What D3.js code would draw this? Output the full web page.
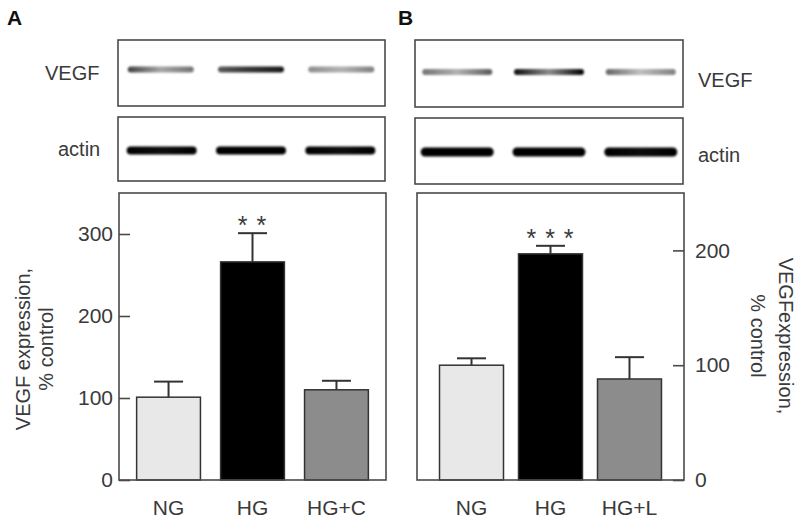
<!DOCTYPE html>
<html>
<head>
<meta charset="utf-8">
<script src="https://cdn.jsdelivr.net/npm/d3@7/dist/d3.min.js"></script>
<style>
  body { margin: 0; background: #fff; }
  svg { display: block; font-family: "Liberation Sans", Arial, sans-serif; }
</style>
</head>
<body>
<svg id="chart" width="800" height="520"></svg>
<script>
// Panel A data
var categoriesA = ["NG", "HG", "HG+C"];
var meansA = [101, 266, 110];
var errorsA = [19, 35, 11];
var ticksA = [0, 100, 200, 300];
var starsA = ["", "* *", ""];

// Panel B data
var categoriesB = ["NG", "HG", "HG+L"];
var meansB = [100, 197, 88];
var errorsB = [6, 7, 19];
var ticksB = [0, 100, 200];
var starsB = ["", "* * *", ""];

// Blot band intensity per lane: [left, middle, right]
var vegfBandsA = [[0.75, 0.35, 0.55], [0.65, 0.8, 0.9], [0.45, 0.3, 0.5]];
var actinBandsA = [[1, 0.95, 1], [1, 1, 1], [1, 0.95, 1]];
var vegfBandsB = [[0.55, 0.3, 0.65], [0.95, 0.45, 1], [0.6, 0.25, 0.5]];
var actinBandsB = [[1, 1, 1], [1, 1, 1], [1, 0.95, 1]];

var barColors = ["#e8e8e8", "#000000", "#8c8c8c"];
var textColor = "#3a3a3a";
var lineColor = "#4a4a4a";

var svg = d3.select("#chart");
var defs = svg.append("defs");
defs.append("filter").attr("id", "blur")
    .attr("x", "-20%").attr("y", "-100%").attr("width", "140%").attr("height", "300%")
  .append("feGaussianBlur").attr("stdDeviation", 1.3);

var gradCount = 0;

// Draw one blot strip (box + bands)
function drawBlot(box, lanes, bands, bandY, bandH, bandW)
{
    svg.append("rect")
        .attr("x", box.x).attr("y", box.y)
        .attr("width", box.w).attr("height", box.h)
        .attr("fill", "#fff")
        .attr("stroke", lineColor)
        .attr("stroke-width", 1.6);

    var laneScale = d3.scaleBand()
        .domain(d3.range(bands.length))
        .range(lanes.range)
        .paddingInner(lanes.inner)
        .paddingOuter(lanes.outer);

    bands.forEach(function(b, i) {
        var id = "g" + (gradCount++);
        var grad = defs.append("linearGradient").attr("id", id);
        [0, 0.5, 1].forEach(function(off, k) {
            grad.append("stop")
                .attr("offset", off)
                .attr("stop-color", "#000")
                .attr("stop-opacity", b[k]);
        });
        var x0 = laneScale(i) + (laneScale.bandwidth() - bandW) / 2;
        svg.append("rect")
            .attr("x", x0)
            .attr("y", bandY - bandH / 2)
            .attr("width", bandW)
            .attr("height", bandH)
            .attr("rx", bandH / 2)
            .attr("fill", "url(#" + id + ")")
            .attr("filter", "url(#blur)");
    });
}

// Draw bar chart panel
function drawBars(p)
{
    var x = d3.scaleBand()
        .domain(p.categories)
        .range([p.left, p.right])
        .paddingInner(p.inner)
        .paddingOuter(p.outer);
    var y = d3.scaleLinear()
        .domain(p.domain)
        .range([p.bottom, p.top]);

    var g = svg.append("g");

    // error bars
    p.categories.forEach(function(c, i) {
        var cx = x(c) + x.bandwidth() / 2;
        var yTop = y(p.means[i] + p.errors[i]);
        g.append("line")
            .attr("x1", cx).attr("x2", cx)
            .attr("y1", y(p.means[i])).attr("y2", yTop)
            .attr("stroke", "#333").attr("stroke-width", 2);
        g.append("line")
            .attr("x1", cx - 14.5).attr("x2", cx + 14.5)
            .attr("y1", yTop).attr("y2", yTop)
            .attr("stroke", "#333").attr("stroke-width", 2);
        if (p.stars[i])
        {
            g.append("text")
                .attr("x", cx)
                .attr("y", yTop + 1)
                .attr("text-anchor", "middle")
                .attr("font-size", 25)
                .attr("letter-spacing", 1)
                .attr("fill", textColor)
                .text(p.stars[i]);
        }
    });

    g.selectAll("rect.bar")
        .data(p.categories)
        .enter().append("rect")
        .attr("class", "bar")
        .attr("x", function(d) { return x(d); })
        .attr("y", function(d, i) { return y(p.means[i]); })
        .attr("width", x.bandwidth())
        .attr("height", function(d, i) { return y(0) - y(p.means[i]); })
        .attr("fill", function(d, i) { return barColors[i]; })
        .attr("stroke", "#333")
        .attr("stroke-width", 1.5);

    // frame
    g.append("rect")
        .attr("x", p.left).attr("y", p.top)
        .attr("width", p.right - p.left).attr("height", p.bottom - p.top)
        .attr("fill", "none")
        .attr("stroke", lineColor)
        .attr("stroke-width", 1.6);

    // y axis
    var axis = (p.side == "left" ? d3.axisLeft(y) : d3.axisRight(y))
        .tickValues(p.ticks)
        .tickSizeInner(-11)
        .tickSizeOuter(0)
        .tickPadding(p.side == "left" ? 6 : 11);
    var ag = g.append("g")
        .attr("transform", "translate(" + (p.side == "left" ? p.left : p.right) + ",0)")
        .call(axis);
    ag.select(".domain").remove();
    ag.selectAll(".tick line").attr("stroke", lineColor).attr("stroke-width", 1.6);
    ag.selectAll(".tick text")
        .attr("font-size", 21)
        .attr("font-family", "Liberation Sans, Arial, sans-serif")
        .attr("fill", textColor);

    // category labels
    g.selectAll("text.cat")
        .data(p.categories)
        .enter().append("text")
        .attr("class", "cat")
        .attr("x", function(d) { return x(d) + x.bandwidth() / 2; })
        .attr("y", 515)
        .attr("text-anchor", "middle")
        .attr("font-size", 21)
        .attr("fill", textColor)
        .text(function(d) { return d; });

    // y label (second line sits toward the chart on the left, away on the right)
    var lab = g.append("text")
        .attr("transform", "translate(" + p.labelX + "," + p.labelY + ") rotate(" + p.rot + ")")
        .attr("text-anchor", "middle")
        .attr("font-size", 20)
        .attr("fill", textColor);
    lab.append("tspan").attr("x", 0).attr("y", 0).text(p.label[0]);
    lab.append("tspan").attr("x", 0).attr("y", p.lineGap).text(p.label[1]);
}

// Panel letters
svg.append("text").attr("x", 7).attr("y", 25)
    .attr("font-size", 21).attr("font-weight", "bold").attr("fill", "#111").text("A");
svg.append("text").attr("x", 398).attr("y", 25)
    .attr("font-size", 21).attr("font-weight", "bold").attr("fill", "#111").text("B");

// Blots A
drawBlot({x: 118, y: 40, w: 267, h: 66}, {range: [117, 385], inner: 0.27, outer: 0.12}, vegfBandsA, 69.5, 6, 66);
drawBlot({x: 118, y: 117, w: 267, h: 64}, {range: [117, 385], inner: 0.24, outer: 0.12}, actinBandsA, 150.5, 8, 70);
// Blots B
drawBlot({x: 415, y: 40, w: 268, h: 67}, {range: [415, 683], inner: 0.24, outer: 0.08}, vegfBandsB, 72, 6, 70);
drawBlot({x: 415, y: 118, w: 268, h: 66}, {range: [415, 683], inner: 0.24, outer: 0.08}, actinBandsB, 152, 9, 73);

var blotLabels = [
    {x: 45, y: 80, t: "VEGF"}, {x: 58, y: 156, t: "actin"},
    {x: 698, y: 87, t: "VEGF"}, {x: 698, y: 162, t: "actin"}
];
svg.selectAll("text.blot")
    .data(blotLabels)
    .enter().append("text")
    .attr("class", "blot")
    .attr("x", function(d) { return d.x; })
    .attr("y", function(d) { return d.y; })
    .attr("font-size", 20)
    .attr("fill", textColor)
    .text(function(d) { return d.t; });

drawBars({
    categories: categoriesA, means: meansA, errors: errorsA, ticks: ticksA, stars: starsA,
    left: 119, right: 386, top: 193, bottom: 480, domain: [0, 350],
    inner: 0.24, outer: 0.21, side: "left",
    label: ["VEGF expression,", "% control"], labelX: 30, labelY: 349, rot: -90, lineGap: 23
});
drawBars({
    categories: categoriesB, means: meansB, errors: errorsB, ticks: ticksB, stars: starsB,
    left: 417, right: 684, top: 193, bottom: 480, domain: [0, 250],
    inner: 0.19, outer: 0.285, side: "right",
    label: ["VEGFexpression,", "% control"], labelX: 779, labelY: 336, rot: 90, lineGap: 28
});
</script>
</body>
</html>
